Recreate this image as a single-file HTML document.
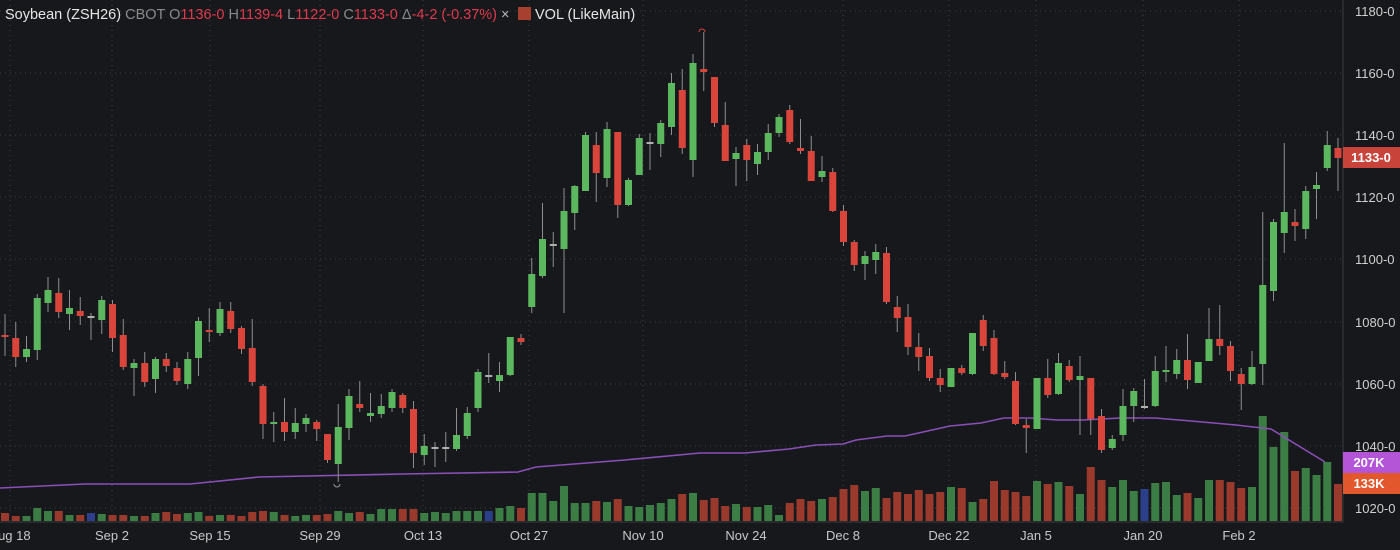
<!DOCTYPE html>
<html><head><meta charset="utf-8"><style>
html,body{margin:0;padding:0;background:#16181b;width:1400px;height:550px;overflow:hidden}
svg{display:block;font-family:"Liberation Sans",sans-serif}
</style></head><body>
<svg id="c" width="1400" height="550" xmlns="http://www.w3.org/2000/svg">
<rect width="1400" height="550" fill="#16181b"/>
<g id="grid" stroke="#3a3e44" stroke-width="1" stroke-dasharray="1,4"></g>
<g id="vol"></g>
<polyline fill="none" stroke="#8b4fb8" stroke-width="1.6" points="0,488 85,484 190,484 259,477 402,474 518,472 536,467 625,460 700,453 745,453 789,449 816,445 843,444 856,440 887,436 905,436 923,432 950,426 981,423 1004,418 1030,418 1057,420 1084,420 1120,418 1155,418 1191,421 1236,425 1271,429 1325,462"/>
<g id="cand"></g>
<path d="M699,32 A3,3 0 0 1 705,32" fill="none" stroke="#d9453a" stroke-width="1"/>
<path d="M334,484 A3,3 0 0 0 340,484" fill="none" stroke="#999" stroke-width="1"/>
<line x1="1343" y1="0" x2="1343" y2="522" stroke="#3a3d42"/>
<line x1="0" y1="522" x2="1343" y2="522" stroke="#3a3d42"/>
<g id="axis" fill="#d0d0d0" font-size="13"></g>
<rect x="1343" y="147" width="57" height="21" fill="#c8433a"/>
<text x="1371" y="162" fill="#fff" font-size="13" font-weight="bold" text-anchor="middle">1133-0</text>
<rect x="1343" y="452" width="57" height="21" fill="#b455d8"/>
<text x="1369" y="467" fill="#fff" font-size="13" font-weight="bold" text-anchor="middle">207K</text>
<rect x="1343" y="473" width="57" height="21" fill="#e2572c"/>
<text x="1369" y="488" fill="#fff" font-size="13" font-weight="bold" text-anchor="middle">133K</text>
<text x="5" y="19" font-size="14.5"><tspan fill="#e6e6e6">Soybean (ZSH26) </tspan><tspan fill="#8a8a8a">CBOT </tspan><tspan fill="#8a8a8a">O</tspan><tspan fill="#e0394e">1136-0 </tspan><tspan fill="#8a8a8a">H</tspan><tspan fill="#e0394e">1139-4 </tspan><tspan fill="#8a8a8a">L</tspan><tspan fill="#e0394e">1122-0 </tspan><tspan fill="#8a8a8a">C</tspan><tspan fill="#e0394e">1133-0 </tspan><tspan fill="#8a8a8a">Δ</tspan><tspan fill="#e0394e">-4-2 (-0.37%) </tspan><tspan fill="#bbb"> ×</tspan></text>
<rect x="518" y="7" width="13" height="13" fill="#a8402f"/>
<text x="535" y="19" font-size="14.5" fill="#e6e6e6">VOL (LikeMain)</text>
</svg>
<script>
var NS="http://www.w3.org/2000/svg";
function el(p,t,a,txt){var e=document.createElementNS(NS,t);for(var k in a)e.setAttribute(k,a[k]);if(txt)e.textContent=txt;document.getElementById(p).appendChild(e);return e;}
var py=[11,73,135,197,259,322,384,446,508],pl=["1180-0","1160-0","1140-0","1120-0","1100-0","1080-0","1060-0","1040-0","1020-0"];
py.forEach(function(y,i){el("grid","line",{x1:0,y1:y,x2:1343,y2:y});el("axis","text",{x:1355,y:y+5},pl[i]);});
var dx=[10,112,210,320,423,529,643,746,843,949,1036,1143,1239],dl=["Aug 18","Sep 2","Sep 15","Sep 29","Oct 13","Oct 27","Nov 10","Nov 24","Dec 8","Dec 22","Jan 5","Jan 20","Feb 2"];
dx.forEach(function(x,i){el("grid","line",{x1:x,y1:0,x2:x,y2:522});el("axis","text",{x:x,y:540,"text-anchor":"middle",fill:"#c8c8c8"},dl[i]);});
var C=[[335,337,314,356,'r'],[338,357,322,367,'r'],[349,357,336,362,'g'],[298,350,294,360,'g'],[290,303,277,312,'g'],[293,312,278,318,'r'],[308,314,290,330,'g'],[311,316,297,325,'r'],[316,317,313,340,'d'],[300,320,296,334,'g'],
[304,338,300,352,'r'],[335,367,319,370,'r'],[363,368,359,396,'g'],[363,382,352,387,'r'],[359,379,357,393,'g'],[359,366,353,372,'r'],[368,381,362,385,'r'],[359,384,352,389,'g'],[321,358,317,376,'g'],[330,332,308,342,'r'],
[309,333,302,336,'g'],[311,329,302,333,'r'],[328,349,326,354,'r'],[348,382,319,386,'r'],[386,424,384,439,'r'],[422,424,412,442,'g'],[422,432,398,441,'r'],[423,432,408,439,'g'],[418,424,414,432,'g'],[422,429,420,441,'r'],
[434,460,434,463,'r'],[427,464,404,482,'g'],[396,428,389,440,'g'],[404,408,381,412,'r'],[413,416,393,422,'g'],[406,414,394,418,'g'],[392,408,389,412,'g'],[395,408,393,413,'r'],[409,453,401,468,'r'],[446,455,434,465,'g'],
[447,448,442,467,'d'],[447,448,432,462,'d'],[435,449,408,451,'g'],[413,436,407,439,'g'],[372,408,369,412,'g'],[375,376,353,383,'d'],[375,381,362,392,'g'],[337,375,338,376,'g'],[338,342,334,345,'r'],[274,307,258,313,'g'],
[239,276,203,278,'g'],[244,245,232,267,'d'],[211,249,188,313,'g'],[186,213,185,230,'g'],[135,191,132,191,'g'],[145,173,132,202,'r'],[129,178,122,187,'g'],[132,205,132,218,'r'],[180,205,178,206,'g'],[138,175,134,175,'g'],
[142,143,133,170,'d'],[123,144,120,157,'g'],[83,127,73,135,'g'],[90,148,69,154,'r'],[63,160,54,177,'g'],[69,72,32,91,'r'],[77,123,77,127,'r'],[125,161,102,161,'r'],[153,159,147,186,'g'],[145,160,139,181,'r'],
[152,164,144,175,'g'],[133,152,124,160,'g'],[117,133,114,137,'g'],[110,142,105,144,'r'],[148,151,119,154,'r'],[151,181,136,181,'r'],[171,177,156,182,'g'],[172,211,168,212,'r'],[211,242,205,246,'r'],[242,265,240,271,'r'],
[256,264,251,280,'g'],[252,260,244,274,'g'],[253,302,247,304,'r'],[307,318,296,332,'r'],[317,347,304,355,'r'],[347,357,333,371,'r'],[356,378,348,381,'r'],[378,385,369,392,'r'],[368,387,368,387,'g'],[368,373,365,375,'r'],
[333,374,333,375,'g'],[320,346,315,351,'r'],[338,374,330,375,'r'],[373,377,361,379,'r'],[381,424,372,425,'r'],[425,428,419,453,'r'],[378,429,378,429,'g'],[378,395,359,398,'r'],[363,394,353,395,'g'],[366,380,360,382,'r'],
[376,380,356,435,'g'],[378,419,378,435,'r'],[416,450,409,453,'r'],[439,448,435,450,'g'],[406,435,389,441,'g'],[391,406,388,422,'g'],[406,408,379,409,'d'],[371,406,356,407,'g'],[370,372,346,382,'g'],[360,374,349,379,'g'],
[360,380,334,389,'r'],[362,383,362,383,'g'],[339,361,308,361,'g'],[339,346,305,355,'r'],[346,371,341,381,'r'],[374,384,368,410,'r'],[367,384,351,385,'g'],[285,364,212,385,'g'],[222,291,219,301,'g'],[212,233,143,253,'g'],
[222,226,209,241,'r'],[191,229,186,239,'g'],[185,189,172,219,'g'],[145,168,131,171,'g'],[148,158,138,191,'r']];
var V=[513,516,516,508,511,511,515,515,513,514,515,515,516,516,513,512,514,513,512,516,515,515,516,512,511,512,515,516,515,515,514,511,
513,512,514,509,509,509,509,513,512,513,511,511,511,511,508,506,508,493,493,501,486,503,503,501,502,499,506,507,505,503,499,494,493,500,
498,506,504,507,507,505,515,503,499,501,499,497,489,485,491,488,498,492,494,490,494,492,487,488,502,499,481,490,492,496,481,484,482,486,494,467,480,487,480,491,489,483,482,495,493,498,480,480,482,488,487,416,447,432,471,468,475,462,484];
var blue={8:1,45:1,106:1};
for(var i=0;i<C.length;i++){
 var x=5+i*10.75,c=C[i];
 var col=c[4]=='g'?'#5cb85e':(c[4]=='r'?'#d9453a':'#b0b0b0');
 var vc=c[4]=='r'?'#9a3a2c':'#3c7d45';if(blue[i])vc='#2c3f8a';
 var vt=V[i]||512;
 el("vol","rect",{x:x-4,y:vt,width:8,height:521-vt,fill:vc});
 el("cand","line",{x1:x,y1:c[2],x2:x,y2:c[3],stroke:"#8e8e8e","stroke-width":1});
 var h=Math.max(c[1]-c[0],2);
 el("cand","rect",{x:x-3.5,y:c[0],width:7,height:h,fill:col});
}
</script>
</body></html>
